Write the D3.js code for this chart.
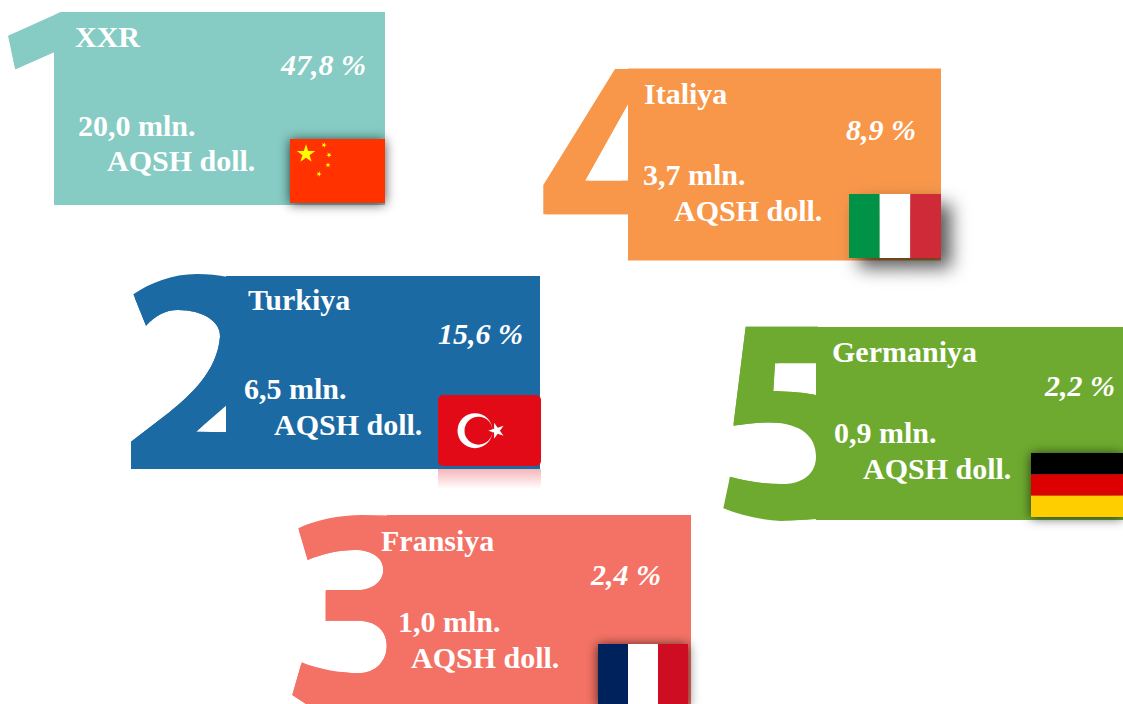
<!DOCTYPE html>
<html><head><meta charset="utf-8">
<script src="https://cdn.jsdelivr.net/npm/d3@7"></script>
<style>html,body{margin:0;padding:0;background:#fff;overflow:hidden}svg{display:block}</style>
</head><body><div id="c"></div>
<script>
const ranks=["1","2","3","4","5"];
const countries=["XXR","Turkiya","Fransiya","Italiya","Germaniya"];
const shares=["47,8 %","15,6 %","2,4 %","8,9 %","2,2 %"];
const amounts=["20,0 mln.","6,5 mln.","1,0 mln.","3,7 mln.","0,9 mln."];
const unit="AQSH doll.";
const flagKeys=["cn","tr","fr","it","de"];

const colors=["#86CBC4","#1C6AA4","#F47265","#F8974A","#6EAA2F"];
const digitFonts=[["Roboto",900],["Open Sans",800],["Open Sans",800],["Roboto",900],["Roboto",900]];
// Decorative outline of each big numeral as it shows beside its card.
const digitOutlines=[
 "M8,35.7 L61,12 L61,60 L54.3,52 L15.3,69.3 Z",
 "M133.3,294.3 C150,283 172,274 197,274 C208,274 218,275 228,277 L228,405 L226,405.7 L196,431.7 L228,432.3 L228,469 L131,469 L131,441.7 L170,411.7 C190,395 217,372 220,336.7 C221,322 203,310 178,310 C165,310 155,316 146,325.7 Z",
 "M298.3,528.3 C315,520 340,515 362,515 L390,515.5 L390,704 L306,704 L292.3,695 L301.7,662.3 C318,669 340,673 358,673.3 C375,673 387,662 386.7,645 C386.5,630 375,620.7 358,620.7 L325.7,620.7 L325.7,590 L358,590 C372,590 383,582 383.3,570 C383.5,558 372,550 355,550 C338,550 322,554 307.7,560 Z",
 "M615,69 L630,69 L628.5,103 L585,180.7 L628.5,180.7 L628.5,214.3 L543.3,214.3 L543.3,185 Z",
 "M745.7,326.7 L818,326.7 L818,363.3 L775,363.3 L773.3,391 C785,391 800,392 816,395 L818,395 L818,519 L781,521 C760,520 740,515 723.3,508.3 L730,476.7 C745,481 765,484.5 785,484 C805,483 816,472 816,456.7 C816,438 803,423 770,422.5 C757,422.5 745,424 733.3,426 Z"
];
const layout=[
 {x:54,y:12,w:331,h:193,cut:7,dx:-65,dy:193,fs:273,name:[21,35],share:[312,63],amt:[24,124],unit:[53,159],flag:[236,127,95,64]},
 {x:226,y:276,w:314,h:193,cut:0,dx:-106,dy:193,fs:268,name:[22,34],share:[297,68],amt:[18,123],unit:[48,159],flag:[212,119,103,71]},
 {x:387,y:515,w:304,h:200,cut:0,dx:-105,dy:195,fs:268,name:[-6,36],share:[274,70],amt:[11,117],unit:[24,153],flag:[211,129,90,62]},
 {x:628,y:68.5,w:313,h:192,cut:0,dx:-92,dy:192,fs:273,name:[16,35],share:[288,71],amt:[15,116],unit:[46,152],flag:[221,125.5,92,64]},
 {x:816,y:327,w:307,h:193,cut:0,dx:-100,dy:191,fs:273,name:[16,35],share:[299,69],amt:[18,116],unit:[47,152],flag:[215,126,92,64]}
];
const W=1123,H=704;
const svg=d3.select("#c").append("svg").attr("width",W).attr("height",H);
const defs=svg.append("defs");
function shadow(id,dx,dy,b,op){const f=defs.append("filter").attr("id",id).attr("x","-40%").attr("y","-40%").attr("width","190%").attr("height","190%");
 f.append("feDropShadow").attr("dx",dx).attr("dy",dy).attr("stdDeviation",b).attr("flood-color","#000").attr("flood-opacity",op);}
shadow("sh",0,1,6,.7);
shadow("shIt",10,10,9,.65);

const rows=d3.range(5).map(i=>({i,rank:ranks[i],name:countries[i],share:shares[i],amt:amounts[i],flag:flagKeys[i],color:colors[i],font:digitFonts[i],outline:digitOutlines[i],l:layout[i]}));

rows.forEach(d=>defs.append("clipPath").attr("id","dc"+d.i).append("path").attr("d",d.outline));
const dg=svg.selectAll("g.digit").data(rows).join("g").attr("class","digit");
dg.append("path").attr("d",d=>d.outline).attr("fill",d=>d.color);
dg.append("g").attr("clip-path",d=>`url(#dc${d.i})`).append("text").text(d=>d.rank)
 .attr("x",d=>d.l.x+d.l.dx).attr("y",d=>d.l.y+d.l.dy)
 .attr("font-family",d=>`'${d.font[0]}'`).attr("font-weight",d=>d.font[1]).attr("font-size",d=>d.l.fs).attr("fill",d=>d.color);

const g=svg.selectAll("g.card").data(rows).join("g").attr("class","card").attr("transform",d=>`translate(${d.l.x},${d.l.y})`);
g.append("path").attr("fill",d=>d.color)
 .attr("d",d=>{const {w,h,cut}=d.l;return `M${cut},0 H${w} V${h} H0 V${cut*.45} Z`;});
const T=(sel,fn,xy,style)=>sel.append("text").text(fn).attr("x",d=>d.l[xy][0]).attr("y",d=>d.l[xy][1])
 .attr("font-family","'Liberation Serif'").attr("font-weight",700).attr("font-size",30).attr("fill","#fff").attr("font-style",style||"normal");
T(g,d=>d.name,"name");
T(g,d=>d.share,"share","italic").attr("text-anchor","end");
T(g,d=>d.amt,"amt");
T(g,d=>unit,"unit");

const star=d3.symbol().type(d3.symbolStar);
const draw={
 cn(s,w,h){s.append("rect").attr("width",w).attr("height",h).attr("fill","#FF3300");
  [[16,15,105,0],[34,6,9,20],[39,16,9,40],[38,26,9,0],[29,35,9,20]].forEach(p=>s.append("path").attr("d",star.size(p[2])()).attr("transform",`translate(${p[0]},${p[1]}) rotate(${p[3]})`).attr("fill","#FFFF00"));},
 tr(s,w,h){s.append("rect").attr("width",w).attr("height",h).attr("rx",5).attr("fill","#E30A17");
  s.append("circle").attr("cx",37).attr("cy",35.7).attr("r",17.5).attr("fill","#fff");
  s.append("circle").attr("cx",40.5).attr("cy",35.7).attr("r",14).attr("fill","#E30A17");
  s.append("path").attr("d",star.size(80)()).attr("transform","translate(58.7,35.7) rotate(-18)").attr("fill","#fff");},
 fr(s,w,h){["#00205B","#fff","#CE0A24"].forEach((c,i)=>s.append("rect").attr("x",i*w/3).attr("width",w/3).attr("height",h).attr("fill",c));},
 it(s,w,h){["#009246","#fff","#CE2B37"].forEach((c,i)=>s.append("rect").attr("x",i*w/3).attr("width",w/3).attr("height",h).attr("fill",c));},
 de(s,w,h){["#000","#DD0000","#FFCE00"].forEach((c,i)=>s.append("rect").attr("y",i*h/3).attr("width",w).attr("height",h/3).attr("fill",c));}
};
g.each(function(d){
 const [fx,fy,fw,fh]=d.l.flag;
 const fg=d3.select(this).append("g").attr("transform",`translate(${fx},${fy})`);
 if(d.flag==="tr"){
  const lg=defs.append("linearGradient").attr("id","refl").attr("x1",0).attr("y1",0).attr("x2",0).attr("y2",1);
  lg.append("stop").attr("offset",0).attr("stop-color","#E30A17").attr("stop-opacity",.3);
  lg.append("stop").attr("offset",1).attr("stop-color","#E30A17").attr("stop-opacity",0);
  fg.append("rect").attr("y",fh+3).attr("width",fw).attr("height",20).attr("fill","url(#refl)");
 } else {
  fg.attr("filter",d.flag==="it"?"url(#shIt)":"url(#sh)");
 }
 draw[d.flag](fg,fw,fh);
});
</script></body></html>
